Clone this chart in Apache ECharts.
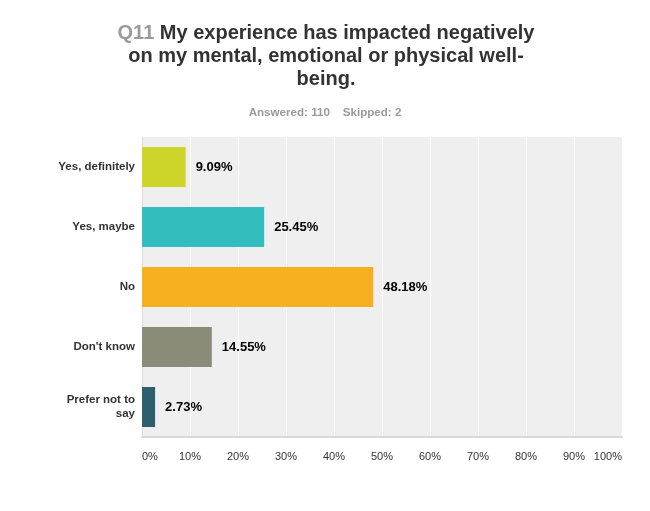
<!DOCTYPE html>
<html>
<head>
<meta charset="utf-8">
<script src="https://cdn.jsdelivr.net/npm/echarts@6/dist/echarts.min.js"></script>
<style>
html,body{margin:0;padding:0;background:#fff;}
#c{width:650px;height:511px;}
</style>
</head>
<body>
<div id="c"></div>
<script>
var categories = ['Yes, definitely', 'Yes, maybe', 'No', "Don't know", 'Prefer not to\nsay'];
var values = [9.09, 25.45, 48.18, 14.55, 2.73];
var barColors = ['#cdd42a', '#34bdbf', '#f7b01f', '#8b8b7a', '#2e5f6f'];
var xTicks = [0, 10, 20, 30, 40, 50, 60, 70, 80, 90, 100];

var chart = echarts.init(document.getElementById('c'), null, {renderer: 'canvas'});
var font = 'Arial, "Liberation Sans", Helvetica, sans-serif';
chart.setOption({
  backgroundColor: '#ffffff',
  animation: false,
  title: [{
    text: '{q|Q11} My experience has impacted negatively\non my mental, emotional or physical well-\nbeing.',
    left: 321,
    top: 17,
    textAlign: 'center',
    textStyle: {
      fontFamily: font, fontSize: 20, fontWeight: 'bold', color: '#333333', lineHeight: 23,
      rich: { q: { fontFamily: font, fontSize: 20, fontWeight: 'bold', color: '#9a9a9a', lineHeight: 23 } }
    }
  }, {
    text: 'Answered: 110    Skipped: 2',
    left: 320,
    top: 102,
    textAlign: 'center',
    textStyle: { fontFamily: font, fontSize: 11.6, fontWeight: 'bold', color: '#9a9a9a' }
  }],
  grid: {
    left: 142, right: 28, top: 137, bottom: 74,
    show: true, backgroundColor: '#efefef', borderWidth: 0,
    containLabel: false
  },
  xAxis: {
    type: 'value', min: 0, max: 100, interval: 10,
    axisLine: { show: true, onZero: false, lineStyle: { color: '#d8d8d8', width: 2 } },
    axisTick: { show: false },
    splitLine: { show: true, lineStyle: { color: '#ffffff', width: 1 } },
    axisLabel: {
      formatter: function (v) { return v + '%'; },
      fontFamily: font, fontSize: 11, color: '#333333', margin: 14,
      alignMinLabel: 'left', alignMaxLabel: 'right'
    }
  },
  yAxis: {
    type: 'category', data: categories, inverse: true,
    axisLine: { show: true, lineStyle: { color: '#dcdcdc', width: 1 } },
    axisTick: { show: false },
    axisLabel: {
      fontFamily: font, fontSize: 11.5, fontWeight: 'bold', color: '#333333', margin: 7,
      align: 'right', lineHeight: 14
    }
  },
  series: [{
    type: 'bar',
    data: values.map(function (v, i) { return { value: v, itemStyle: { color: barColors[i] } }; }),
    barWidth: 40,
    label: {
      show: true, position: 'right', distance: 10,
      formatter: function (p) { return p.value.toFixed(2) + '%'; },
      fontFamily: font, fontSize: 13, fontWeight: 'bold', color: '#000000'
    }
  }]
});
</script>
</body>
</html>
